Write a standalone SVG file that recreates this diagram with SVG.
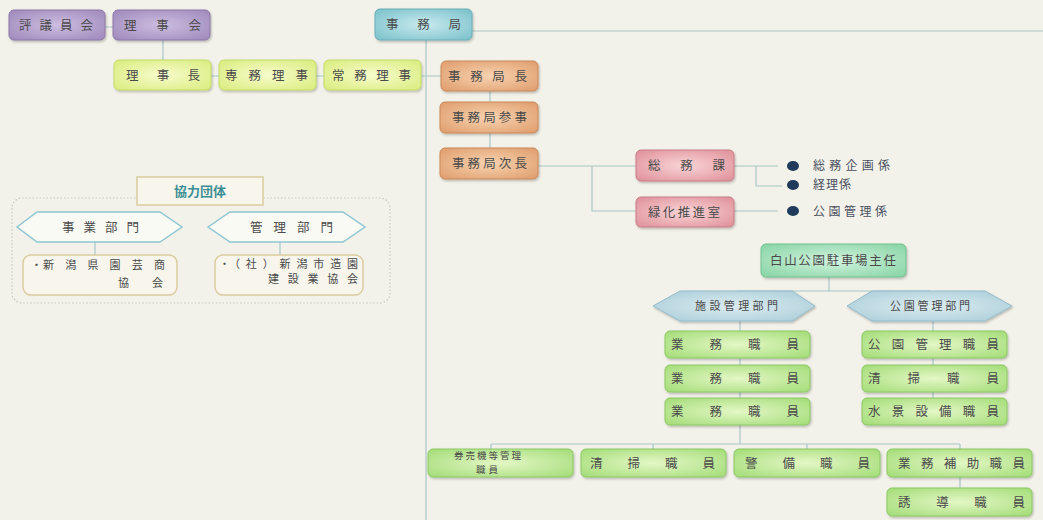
<svg xmlns="http://www.w3.org/2000/svg" width="1043" height="520" viewBox="0 0 1043 520">
<style>
.t{font-family:"Noto Sans CJK JP","Noto Sans CJK SC",sans-serif;font-size:12.5px;fill:#4a4a4a}
.s{font-size:11px}
.xs{font-size:9.5px}
.c{stroke:#a9c6c6;stroke-width:1.2;fill:none}
.box{filter:url(#sh)}
.pp{fill:url(#gp);stroke:#8c76a8}
.yy{fill:url(#gy);stroke:#c4dc68}
.tt{fill:url(#gt);stroke:#68aeb8}
.oo{fill:url(#go);stroke:#c98858}
.kk{fill:url(#gk);stroke:#c97c86}
.mm{fill:url(#gm);stroke:#72c090}
.gg{fill:url(#gg);stroke:#8ac862}
.hh{fill:url(#gh);stroke:#94bccb}
.hw{fill:#fafaf4;stroke:#8ec6d2;stroke-width:1.5}
.bw{fill:#f7f5ec;stroke:#dccb9e;stroke-width:1.5}
.bul{fill:#1f3a5a}
</style>
<defs>
<filter id="sh" x="-10%" y="-20%" width="125%" height="150%"><feDropShadow dx="1" dy="1.5" stdDeviation="1" flood-color="#000" flood-opacity="0.25"/></filter>
<radialGradient id="gp" cx="0.5" cy="0.5" r="0.7"><stop offset="0" stop-color="#cdbde0"/><stop offset="1" stop-color="#9e88bb"/></radialGradient>
<radialGradient id="gy" cx="0.5" cy="0.5" r="0.7"><stop offset="0" stop-color="#f7fccc"/><stop offset="1" stop-color="#d9ec7c"/></radialGradient>
<radialGradient id="gt" cx="0.5" cy="0.5" r="0.7"><stop offset="0" stop-color="#c8eaee"/><stop offset="1" stop-color="#79c0ca"/></radialGradient>
<radialGradient id="go" cx="0.5" cy="0.5" r="0.7"><stop offset="0" stop-color="#f7d3b0"/><stop offset="1" stop-color="#df9c6c"/></radialGradient>
<radialGradient id="gk" cx="0.5" cy="0.5" r="0.7"><stop offset="0" stop-color="#f9d5d7"/><stop offset="1" stop-color="#df8f98"/></radialGradient>
<radialGradient id="gm" cx="0.5" cy="0.5" r="0.7"><stop offset="0" stop-color="#d3f3df"/><stop offset="1" stop-color="#86d4a4"/></radialGradient>
<radialGradient id="gg" cx="0.5" cy="0.5" r="0.7"><stop offset="0" stop-color="#e4f7c6"/><stop offset="1" stop-color="#a2dc76"/></radialGradient>
<radialGradient id="gh" cx="0.5" cy="0.5" r="0.7"><stop offset="0" stop-color="#dcecf1"/><stop offset="1" stop-color="#a8ccd8"/></radialGradient>
</defs>
<rect width="1043" height="520" fill="#f3f2ea"/>

<g id="connectors">
<path class="c" d="M105,27H113 M163,40V60 M211,76H219 M316,76H324 M421,76H441"/>
<path class="c" stroke="#a4d0d0" d="M472,31H1043 M426,40V520"/>
<path class="c" d="M490,91V102 M490,133V148"/>
<path class="c" d="M538,166H636 M592,166V211H636"/>
<path class="c" d="M734,166H778 M756,166V186H782 M734,211H778"/>
<path class="c" d="M829,277V291 M737,291H930"/>
<path class="c" d="M740,321V444 M933,321V398"/>
<path class="c" d="M491,444H960 M491,444V449 M653,444V449 M807,444V449 M960,444V449 M960,477V488"/>
<path class="c" d="M95,242V255 M280,242V255"/>
</g>

<g id="n-hyogiinkai"><rect class="box pp" x="9" y="10" width="96" height="30" rx="5"/><text class="t" x="19" y="29.5" textLength="74" lengthAdjust="spacing">評議員会</text></g>
<g id="n-rijikai"><rect class="box pp" x="113" y="10" width="97" height="30" rx="5"/><text class="t" x="124" y="29.5" textLength="77" lengthAdjust="spacing">理事会</text></g>
<g id="n-jimukyoku"><rect class="box tt" x="375" y="9" width="97" height="31" rx="5"/><text class="t" x="386" y="29" textLength="75" lengthAdjust="spacing">事務局</text></g>
<g id="n-rijicho"><rect class="box yy" x="114" y="60" width="97" height="30" rx="5"/><text class="t" x="126" y="79.5" textLength="74" lengthAdjust="spacing">理事長</text></g>
<g id="n-senmu"><rect class="box yy" x="219" y="60" width="97" height="30" rx="5"/><text class="t" x="225" y="79.5" textLength="83" lengthAdjust="spacing">専務理事</text></g>
<g id="n-jomu"><rect class="box yy" x="324" y="60" width="97" height="30" rx="5"/><text class="t" x="332" y="79.5" textLength="79" lengthAdjust="spacing">常務理事</text></g>
<g id="n-kyokucho"><rect class="box oo" x="441" y="61" width="97" height="30" rx="5"/><text class="t" x="448" y="80.5" textLength="79" lengthAdjust="spacing">事務局長</text></g>
<g id="n-sanji"><rect class="box oo" x="440" y="102" width="98" height="31" rx="5"/><text class="t" x="452" y="122" textLength="75" lengthAdjust="spacing">事務局参事</text></g>
<g id="n-jicho"><rect class="box oo" x="440" y="148" width="98" height="31" rx="5"/><text class="t" x="452" y="168" textLength="75" lengthAdjust="spacing">事務局次長</text></g>
<g id="n-somuka"><rect class="box kk" x="636" y="150" width="98" height="31" rx="5"/><text class="t" x="648" y="170" textLength="77" lengthAdjust="spacing">総務課</text></g>
<g id="n-ryokka"><rect class="box kk" x="636" y="197" width="98" height="30" rx="5"/><text class="t" x="648" y="216.5" textLength="72" lengthAdjust="spacing">緑化推進室</text></g>

<g id="n-kakari">
<ellipse class="bul" cx="793" cy="166" rx="6" ry="5"/>
<ellipse class="bul" cx="793" cy="185" rx="6" ry="5"/>
<ellipse class="bul" cx="793" cy="211" rx="6" ry="5"/>
<text class="t" x="813" y="170" textLength="77" lengthAdjust="spacing" style="font-size:12px;fill:#4a5060">総務企画係</text>
<text class="t" x="813" y="189" textLength="38" lengthAdjust="spacing" style="font-size:12px;fill:#4a5060">経理係</text>
<text class="t" x="813" y="215.5" textLength="74" lengthAdjust="spacing" style="font-size:12px;fill:#4a5060">公園管理係</text>
</g>

<g id="n-shunin"><rect class="box mm" x="761" y="244" width="145" height="33" rx="5"/><text class="t" x="770" y="265" textLength="126" lengthAdjust="spacing">白山公園駐車場主任</text></g>
<g id="n-shisetsu"><polygon class="box hh" points="653,306 680,291 792,291 815,306 792,321 680,321"/><text class="t s" x="695" y="310" textLength="83" lengthAdjust="spacing">施設管理部門</text></g>
<g id="n-koen"><polygon class="box hh" points="847,306 872,291 985,291 1012,306 985,321 872,321"/><text class="t s" x="890" y="310" textLength="80" lengthAdjust="spacing">公園管理部門</text></g>

<g id="n-gyomu1"><rect class="box gg" x="665" y="331" width="145" height="27" rx="5"/><text class="t" x="671" y="349" textLength="128" lengthAdjust="spacing">業務職員</text></g>
<g id="n-gyomu2"><rect class="box gg" x="665" y="365" width="145" height="27" rx="5"/><text class="t" x="671" y="383" textLength="128" lengthAdjust="spacing">業務職員</text></g>
<g id="n-gyomu3"><rect class="box gg" x="665" y="398" width="145" height="27" rx="5"/><text class="t" x="671" y="416" textLength="128" lengthAdjust="spacing">業務職員</text></g>
<g id="n-koenkanri"><rect class="box gg" x="862" y="331" width="145" height="27" rx="5"/><text class="t" x="868" y="349" textLength="131" lengthAdjust="spacing">公園管理職員</text></g>
<g id="n-seiso1"><rect class="box gg" x="862" y="365" width="145" height="27" rx="5"/><text class="t" x="868" y="383" textLength="131" lengthAdjust="spacing">清掃職員</text></g>
<g id="n-suikei"><rect class="box gg" x="862" y="398" width="145" height="27" rx="5"/><text class="t" x="868" y="416" textLength="131" lengthAdjust="spacing">水景設備職員</text></g>

<g id="n-kenbaiki"><rect class="box gg" x="428" y="449" width="145" height="28" rx="5"/><text class="t xs" x="454" y="459" textLength="67" lengthAdjust="spacing">券売機等管理</text><text class="t xs" x="476" y="473" textLength="22" lengthAdjust="spacing">職員</text></g>
<g id="n-seiso2"><rect class="box gg" x="581" y="449" width="145" height="28" rx="5"/><text class="t" x="590" y="467.5" textLength="125" lengthAdjust="spacing">清掃職員</text></g>
<g id="n-keibi"><rect class="box gg" x="734" y="449" width="146" height="28" rx="5"/><text class="t" x="745" y="467.5" textLength="125" lengthAdjust="spacing">警備職員</text></g>
<g id="n-hojo"><rect class="box gg" x="887" y="449" width="145" height="28" rx="5"/><text class="t" x="898" y="467.5" textLength="127" lengthAdjust="spacing">業務補助職員</text></g>
<g id="n-yudo"><rect class="box gg" x="887" y="488" width="145" height="28" rx="5"/><text class="t" x="898" y="506.5" textLength="127" lengthAdjust="spacing">誘導職員</text></g>

<g id="g-kyoryoku">
<rect x="12" y="198" width="378" height="105" rx="10" fill="none" stroke="#c8c8bc" stroke-width="1.2" stroke-dasharray="1.5 2"/>
</g>
<g id="n-kyoryoku"><rect class="bw" x="137" y="177" width="126" height="28"/><text class="t" x="200" y="196" text-anchor="middle" style="font-weight:bold;font-size:13px;fill:#3d8f95">協力団体</text></g>
<g id="n-jigyo"><polygon class="hw" points="17,227 37,212 160,212 182,227 160,242 37,242"/><text class="t" x="62" y="232" textLength="77" lengthAdjust="spacing">事業部門</text></g>
<g id="n-kanri"><polygon class="hw" points="208,227 230,212 343,212 365,227 343,242 230,242"/><text class="t" x="250" y="232" textLength="83" lengthAdjust="spacing">管理部門</text></g>
<g id="n-engei"><rect class="bw" x="23" y="255" width="154" height="40" rx="8"/><text class="t s" x="31" y="269">・</text><text class="t s" x="43" y="269" textLength="122" lengthAdjust="spacing">新潟県園芸商</text><text class="t s" x="118" y="287" textLength="45" lengthAdjust="spacing">協会</text></g>
<g id="n-zoen"><rect class="bw" x="215" y="255" width="148" height="40" rx="8"/><text class="t s" x="219" y="268">・</text><text class="t s" x="229" y="268" textLength="129" lengthAdjust="spacing">（社）新潟市造園</text><text class="t s" x="268" y="283" textLength="90" lengthAdjust="spacing">建設業協会</text></g>
</svg>
